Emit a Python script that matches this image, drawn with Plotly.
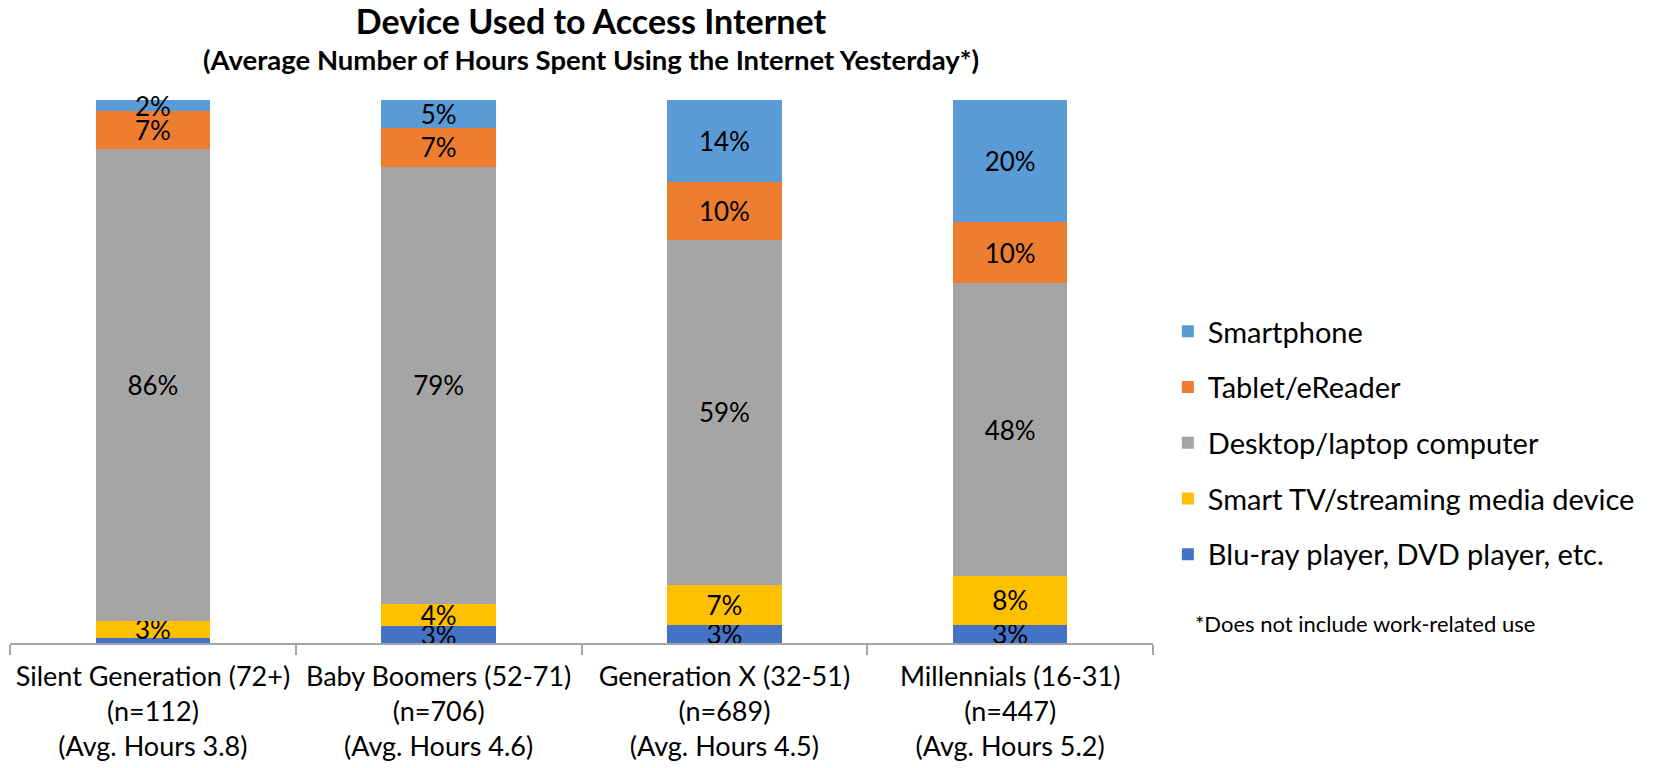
import plotly.graph_objects as go

categories = [
    "Silent Generation (72+)<br>(n=112)<br>(Avg. Hours 3.8)",
    "Baby Boomers (52-71)<br>(n=706)<br>(Avg. Hours 4.6)",
    "Generation X (32-51)<br>(n=689)<br>(Avg. Hours 4.5)",
    "Millennials (16-31)<br>(n=447)<br>(Avg. Hours 5.2)",
]
series_names = [
    "Blu-ray player, DVD player, etc.",
    "Smart TV/streaming media device",
    "Desktop/laptop computer",
    "Tablet/eReader",
    "Smartphone",
]
bluray = [1, 3, 3, 3]
smart_tv = [3, 4, 7, 8]
desktop = [86, 79, 59, 48]
tablet = [7, 7, 10, 10]
smartphone = [2, 5, 14, 20]
bluray_labels = ["", "3%", "3%", "3%"]

colors = ["#4472C4", "#FFC000", "#A5A5A5", "#ED7D31", "#5B9BD5"]
values = [bluray, smart_tv, desktop, tablet, smartphone]

FONT = "Lato"

fig = go.Figure()
for i, (name, vals, col) in enumerate(zip(series_names, values, colors)):
    labels = bluray_labels if i == 0 else [f"{v}%" for v in vals]
    fig.add_trace(go.Bar(
        x=categories, y=vals, name=name, marker=dict(color=col, line=dict(width=0)),
        text=labels, textposition="inside", insidetextanchor="middle", textangle=0,
        textfont=dict(family=FONT, size=26, color="black"),
        insidetextfont=dict(family=FONT, size=26, color="black"),
        constraintext="none", cliponaxis=False, legendgroup=name,
        legendrank=len(series_names) - i,
        hoverinfo="skip",
    ))

fig.update_layout(
    width=1668, height=768,
    barmode="stack", barnorm="percent", bargap=0.6,
    margin=dict(l=10, r=515, t=100, b=125, autoexpand=False),
    plot_bgcolor="white", paper_bgcolor="white",
    font=dict(family=FONT, color="black"),
    showlegend=True,
    legend=dict(
        x=1.013, xanchor="left", y=(643 - 306) / 543, yanchor="top",
        traceorder="grouped", tracegroupgap=15,
        font=dict(family=FONT, size=29, color="black"),
        itemclick=False,
    ),
    title=dict(
        text="<b>Device Used to Access Internet</b>",
        x=(591 - 10) / 1143, xref="paper", xanchor="center",
        y=1 - 22 / 768, yref="container", yanchor="middle",
        font=dict(family=FONT, size=34, color="black"),
    ),
    annotations=[
        dict(text="<b>(Average Number of Hours Spent Using the Internet Yesterday*)</b>",
             x=(591 - 10) / 1143, xref="paper", xanchor="center",
             y=(643 - 59) / 543, yref="paper", yanchor="middle",
             showarrow=False, font=dict(family=FONT, size=27.5, color="black")),
        dict(text="*Does not include work-related use",
             x=(1193 - 10) / 1143, xref="paper", xanchor="left",
             y=(643 - 623) / 543, yref="paper", yanchor="middle",
             showarrow=False, font=dict(family=FONT, size=22, color="black")),
    ],
)
fig.update_xaxes(
    showline=True, linecolor="#A6A6A6", linewidth=1.5,
    ticks="outside", tickson="boundaries", ticklen=10, tickcolor="#A6A6A6", tickwidth=1.5,
    tickfont=dict(family=FONT, size=27, color="black"),
    ticklabelstandoff=9, automargin=False,
)
fig.update_yaxes(range=[0, 100.02], visible=False, showgrid=False, automargin=False)

fig.write_html("out.html")
